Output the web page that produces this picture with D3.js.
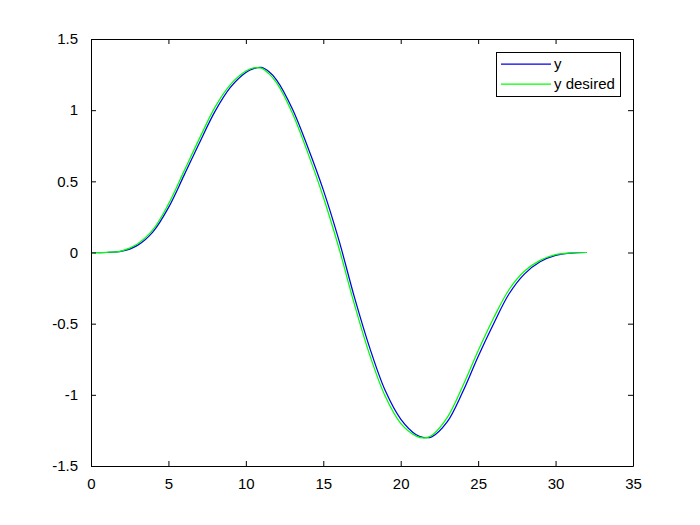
<!DOCTYPE html>
<html>
<head>
<meta charset="utf-8">
<script src="https://cdn.jsdelivr.net/npm/d3@7"></script>
<style>
  html, body { margin: 0; padding: 0; background: #ffffff; }
  svg { display: block; }
  text { font-family: "Liberation Sans", Arial, sans-serif; fill: #000; }
</style>
</head>
<body>
<svg id="chart" width="700" height="525"></svg>
<script>
// ---- data ----
const tValues = [0,1,2,3,4,5,6,7,8,9,10,10.5,11,11.5,12,13,14,15,16,17,18,19,20,21,21.5,22,23,24,25,26,27,28,29,30,31,32];
const yValues = [0,0.000,0.009,0.050,0.145,0.315,0.54,0.77,0.99,1.16,1.265,1.292,1.30,1.27,1.21,1.01,0.74,0.44,0.09,-0.31,-0.67,-0.97,-1.17,-1.28,-1.30,-1.295,-1.19,-0.98,-0.73,-0.50,-0.29,-0.15,-0.065,-0.02,-0.004,0];
const yDesiredValues = [0,0.001,0.012,0.06,0.16,0.34,0.57,0.80,1.02,1.18,1.275,1.297,1.295,1.255,1.19,0.98,0.70,0.39,0.035,-0.36,-0.72,-1.01,-1.20,-1.29,-1.303,-1.285,-1.16,-0.94,-0.69,-0.46,-0.26,-0.13,-0.055,-0.015,-0.003,0];
const xTicks = [0,5,10,15,20,25,30,35];
const yTicks = [-1.5,-1,-0.5,0,0.5,1,1.5];
const seriesNames = ["y", "y desired"];
const seriesColors = ["#0000e6", "#00ff00"];

// ---- layout ----
const L = 91, R = 633, T = 39, B = 466;
const svg = d3.select("#chart");
const x = d3.scaleLinear().domain([0, 35]).range([L, R]);
const y = d3.scaleLinear().domain([-1.5, 1.5]).range([B, T]);
const tickLen = 5;

svg.append("rect").attr("x", L).attr("y", T).attr("width", R - L).attr("height", B - T)
  .attr("fill", "#fff").attr("stroke", "none");

// curves
const series = [yValues, yDesiredValues];
const line = d3.line().x(d => x(d[0])).y(d => y(d[1])).curve(d3.curveCatmullRom.alpha(0.5));
series.forEach((vals, i) => {
  svg.append("path")
    .datum(tValues.map((t, j) => [t, vals[j]]))
    .attr("d", line)
    .attr("fill", "none")
    .attr("stroke", seriesColors[i])
    .attr("stroke-width", 1.25);
});

// axes (ticks inside, MATLAB box style)
const fmt = d => String(d);
const axB = svg.append("g").attr("transform", `translate(0,${B})`)
  .call(d3.axisBottom(x).tickValues(xTicks).tickFormat(fmt).tickSizeInner(-tickLen).tickSizeOuter(0).tickPadding(12));
const axT = svg.append("g").attr("transform", `translate(0,${T})`)
  .call(d3.axisTop(x).tickValues(xTicks).tickFormat("").tickSizeInner(-tickLen).tickSizeOuter(0));
const axL = svg.append("g").attr("transform", `translate(${L},0)`)
  .call(d3.axisLeft(y).tickValues(yTicks).tickFormat(fmt).tickSizeInner(-tickLen).tickSizeOuter(0).tickPadding(13));
const axR = svg.append("g").attr("transform", `translate(${R},0)`)
  .call(d3.axisRight(y).tickValues(yTicks).tickFormat("").tickSizeInner(-tickLen).tickSizeOuter(0));

[axB, axT, axL, axR].forEach(g => {
  g.selectAll(".domain").attr("stroke", "#000").attr("stroke-width", 1);
  g.selectAll(".tick line").attr("stroke", "#000").attr("stroke-width", 1);
  g.selectAll("text").attr("font-size", 15).attr("font-family", "Liberation Sans, Arial, sans-serif").attr("fill", "#000");
});
axB.selectAll("text").attr("dy", "0.71em");

// legend
const lg = svg.append("g");
lg.append("rect").attr("x", 496.5).attr("y", 52.5).attr("width", 124).attr("height", 44)
  .attr("fill", "#fff").attr("stroke", "#000").attr("stroke-width", 1);
seriesNames.forEach((name, i) => {
  const cy = 64 + i * 20;
  lg.append("line").attr("x1", 501).attr("x2", 551).attr("y1", cy).attr("y2", cy)
    .attr("stroke", seriesColors[i]).attr("stroke-width", 1.25);
  lg.append("text").attr("x", 554).attr("y", cy).attr("dy", "0.35em")
    .attr("font-size", 15).text(name);
});
</script>
</body>
</html>
